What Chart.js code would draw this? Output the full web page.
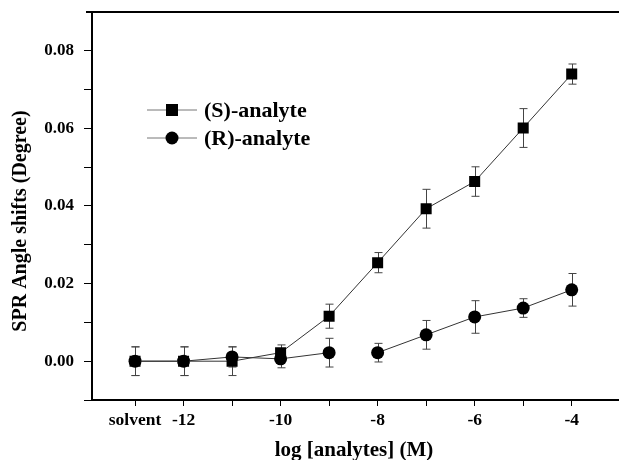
<!DOCTYPE html>
<html>
<head>
<meta charset="utf-8">
<script src="https://cdn.jsdelivr.net/npm/chart.js@4/dist/chart.umd.min.js"></script>
<style>
    html, body { margin: 0; padding: 0; background: #fff; overflow: hidden; }
    #clip { width: 619px; height: 460px; overflow: hidden; }
    #wrap { width: 660px; height: 460px; }
</style>
</head>
<body>
<div id="clip"><div id="wrap"><canvas id="sprChart"></canvas></div></div>
<script>
    // log concentration; "solvent" sits at -13
    var logConc = [-13, -12, -11, -10, -9, -8, -7, -6, -5, -4];
    var xTickLabels = ['solvent', '-12', '', '-10', '', '-8', '', '-6', '', '-4'];
    var yTickValues = [-0.01, 0, 0.01, 0.02, 0.03, 0.04, 0.05, 0.06, 0.07, 0.08, 0.09];

    var sShift = [0.0000, 0.0000, 0.0000, 0.0022, 0.0116, 0.0254, 0.0393, 0.0463, 0.0601, 0.0740];
    var sError = [0.0037, 0.0037, 0.0037, 0.0020, 0.0031, 0.0026, 0.0050, 0.0038, 0.0050, 0.0026];

    var rShift = [0.0000, 0.0000, 0.0011, 0.0006, 0.0022, 0.0022, 0.0068, 0.0114, 0.0137, 0.0184];
    var rError = [0.0037, 0.0037, 0.0026, 0.0023, 0.0037, 0.0024, 0.0037, 0.0042, 0.0024, 0.0042];

    var xTitle = 'log [analytes] (M)';
    var yTitle = 'SPR Angle shifts (Degree)';

    var serif = "'Liberation Serif', 'Times New Roman', serif";

    function toPoints(xs, ys, errs) {
        return xs.map(function (x, i) {
            return { x: x, y: ys[i], err: errs[i] };
        });
    }

    // vertical error bars with caps, drawn under the markers
    var errorBars = {
        id: 'errorBars',
        beforeDatasetsDraw: function (chart) {
            var ctx = chart.ctx;
            var xs = chart.scales.x, ys = chart.scales.y;
            ctx.save();
            ctx.strokeStyle = '#444';
            ctx.lineWidth = 1;
            chart.data.datasets.forEach(function (ds) {
                ds.data.forEach(function (p) {
                    var px = Math.round(xs.getPixelForValue(p.x)) + 0.5;
                    var top = ys.getPixelForValue(p.y + p.err);
                    var bot = ys.getPixelForValue(p.y - p.err);
                    ctx.beginPath();
                    ctx.moveTo(px, top); ctx.lineTo(px, bot);
                    ctx.moveTo(px - 4, top); ctx.lineTo(px + 4, top);
                    ctx.moveTo(px - 4, bot); ctx.lineTo(px + 4, bot);
                    ctx.stroke();
                });
            });
            ctx.restore();
        }
    };

    // top frame line, axis titles and the in-plot legend
    var frameAndLegend = {
        id: 'frameAndLegend',
        afterDraw: function (chart) {
            var ctx = chart.ctx;
            var area = chart.chartArea;
            ctx.save();
            ctx.strokeStyle = '#000';
            ctx.lineWidth = 2;
            ctx.beginPath();
            ctx.moveTo(area.left - 6, area.top);
            ctx.lineTo(area.right, area.top);
            ctx.stroke();

            ctx.fillStyle = '#000';
            ctx.textAlign = 'center';
            ctx.textBaseline = 'middle';
            ctx.font = 'bold 21px ' + serif;
            ctx.fillText(xTitle, 354, 451);

            ctx.save();
            ctx.translate(21, 221);
            ctx.rotate(-Math.PI / 2);
            ctx.font = 'bold 20px ' + serif;
            ctx.fillText(yTitle, 0, 0);
            ctx.restore();

            var rows = [
                { label: '(S)-analyte', shape: 'square', y: 110 },
                { label: '(R)-analyte', shape: 'circle', y: 138 }
            ];
            ctx.textAlign = 'left';
            rows.forEach(function (row) {
                ctx.strokeStyle = '#777';
                ctx.lineWidth = 1;
                ctx.beginPath();
                ctx.moveTo(147, row.y); ctx.lineTo(197, row.y);
                ctx.stroke();
                ctx.fillStyle = '#000';
                if (row.shape === 'square') {
                    ctx.fillRect(172 - 6, row.y - 6, 12, 12);
                } else {
                    ctx.beginPath();
                    ctx.arc(172, row.y, 6.5, 0, Math.PI * 2);
                    ctx.fill();
                }
                ctx.font = 'bold 22px ' + serif;
                ctx.fillText(row.label, 204, row.y + 1);
            });
            ctx.restore();
        }
    };

    var ctx = document.getElementById('sprChart').getContext('2d');

    var sprChart = new Chart(ctx, {
        type: 'scatter',
        data: {
            datasets: [{
                label: '(S)-analyte',
                data: toPoints(logConc, sShift, sError),
                showLine: true,
                borderColor: '#333',
                borderWidth: 1,
                backgroundColor: '#000',
                pointStyle: 'rect',
                pointRadius: 7.8,
                pointBorderWidth: 0
            }, {
                label: '(R)-analyte',
                data: toPoints(logConc, rShift, rError),
                showLine: true,
                borderColor: '#333',
                borderWidth: 1,
                backgroundColor: '#000',
                pointStyle: 'circle',
                pointRadius: 6.5,
                pointBorderWidth: 0,
                segment: {
                    // no connecting line between -9 and -8
                    borderColor: function (c) { return c.p0DataIndex === 4 ? 'rgba(0,0,0,0)' : undefined; }
                }
            }]
        },
        options: {
            responsive: true,
            maintainAspectRatio: false,
            animation: false,
            layout: { padding: { top: 12, right: 0, left: 0, bottom: 0 } },
            plugins: {
                legend: { display: false },
                tooltip: { enabled: false }
            },
            scales: {
                x: {
                    type: 'linear',
                    min: -13.887,
                    max: -2.341,
                    afterFit: function (scale) { scale.height = 60; },
                    afterBuildTicks: function (scale) {
                        scale.ticks = logConc.map(function (v) { return { value: v }; });
                    },
                    ticks: {
                        autoSkip: false,
                        maxRotation: 0,
                        padding: 4,
                        color: '#000',
                        font: { family: serif, size: 17.5, weight: 'bold' },
                        callback: function (value) {
                            var i = logConc.indexOf(value);
                            return i >= 0 ? xTickLabels[i] : '';
                        }
                    },
                    grid: { display: true, drawOnChartArea: false, drawTicks: true, tickLength: 6, color: '#000', lineWidth: 1 },
                    border: { display: true, color: '#000', width: 2 },
                    title: { display: false }
                },
                y: {
                    type: 'linear',
                    min: -0.01,
                    max: 0.09,
                    afterFit: function (scale) {
                        scale.width = 92;
                        scale.paddingTop = 0;
                        scale.paddingBottom = 0;
                    },
                    afterBuildTicks: function (scale) {
                        scale.ticks = yTickValues.map(function (v) { return { value: v }; });
                    },
                    ticks: {
                        padding: 10,
                        color: '#000',
                        font: { family: serif, size: 17, weight: 'bold' },
                        callback: function (value) {
                            var n = Math.round(value * 100);
                            if (n >= 9) return null; // top corner, covered by the frame line
                            return (n >= 0 && n % 2 === 0) ? value.toFixed(2) : '';
                        }
                    },
                    grid: { display: true, drawOnChartArea: false, drawTicks: true, tickLength: 8, color: '#000', lineWidth: 1 },
                    border: { display: true, color: '#000', width: 2 },
                    title: { display: false }
                }
            }
        },
        plugins: [errorBars, frameAndLegend]
    });
</script>
</body>
</html>
